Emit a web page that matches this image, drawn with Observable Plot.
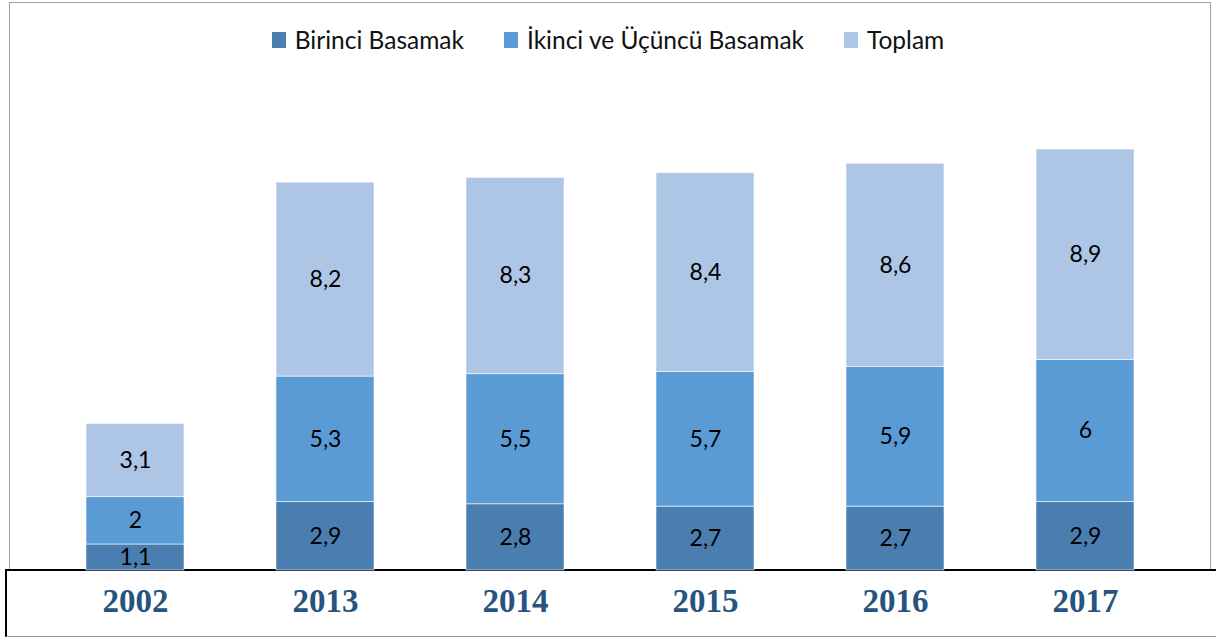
<!DOCTYPE html>
<html>
<head>
<meta charset="utf-8">
<script src="https://cdn.jsdelivr.net/npm/d3@7"></script>
<script src="https://cdn.jsdelivr.net/npm/@observablehq/plot@0.6"></script>
<style>
  html, body { margin: 0; padding: 0; background: #fff; }
  #wrap { position: relative; width: 1216px; height: 637px; overflow: hidden; }
  #frame { position: absolute; left: 9px; top: 2px; width: 1200px; height: 633px; border: 1.5px solid #a0a0a0; box-sizing: content-box; }
  #box { position: absolute; left: 5px; top: 569px; width: 1220px; height: 65px; border-top: 2.5px solid #000; border-left: 2px solid #000; border-bottom: 1.5px solid #9a9a9a; background: #fff; }
  #chart { position: absolute; left: 0; top: 0; }
  #legend { position: absolute; top: 25px; left: 0; width: 1216px; display: flex; justify-content: center; gap: 0; font-family: Lato, "Open Sans", sans-serif; font-size: 24.5px; color: #111; }
  #legend .item { display: flex; align-items: center; margin: 0 20px; }
  #legend .sw { width: 14px; height: 16px; margin-right: 9px; display: inline-block; }
</style>
</head>
<body>
<div id="wrap">
  <div id="frame"></div>
  <div id="box"></div>
  <div id="chart"></div>
  <div id="legend"></div>
</div>
<script>
const years = ["2002", "2013", "2014", "2015", "2016", "2017"];
const seriesNames = ["Birinci Basamak", "İkinci ve Üçüncü Basamak", "Toplam"];
const seriesColors = ["#4a7eb0", "#5b9bd5", "#adc6e6"];
const birinci = [1.1, 2.9, 2.8, 2.7, 2.7, 2.9];
const ikinci = [2, 5.3, 5.5, 5.7, 5.9, 6];
const toplam = [3.1, 8.2, 8.3, 8.4, 8.6, 8.9];

const seriesValues = [birinci, ikinci, toplam];
const data = [];
years.forEach((year, i) => {
  seriesNames.forEach((s, j) => data.push({year, series: s, value: seriesValues[j][i]}));
});

const fmt = v => String(v).replace(".", ",");

const plot = Plot.plot({
  width: 1216,
  height: 637,
  marginTop: 97,
  marginBottom: 67,
  marginLeft: 39,
  marginRight: 35,
  style: {background: "transparent", overflow: "visible"},
  x: {domain: years, paddingInner: 0.485, paddingOuter: 0.2425, label: null},
  y: {domain: [0, 20], axis: null},
  color: {domain: seriesNames, range: seriesColors},
  marks: [
    Plot.barY(data, Plot.stackY({x: "year", y: "value", fill: "series", order: seriesNames, stroke: "#ffffff", strokeWidth: 0.8, strokeOpacity: 0.7})),
    Plot.text(data, Plot.stackY({x: "year", y: "value", z: "series", order: seriesNames, text: d => fmt(d.value), fontSize: 23, fontFamily: "Lato, 'Open Sans', sans-serif", fill: "#000"})),
    Plot.axisX({tickSize: 0, tickPadding: 18, fontSize: 33, fontWeight: "bold", fontFamily: "'Liberation Serif', 'Times New Roman', serif", color: "#26547e", label: null})
  ]
});
document.getElementById("chart").appendChild(plot);

const legend = document.getElementById("legend");
seriesNames.forEach((s, j) => {
  const item = document.createElement("div");
  item.className = "item";
  const sw = document.createElement("span");
  sw.className = "sw";
  sw.style.background = seriesColors[j];
  const t = document.createElement("span");
  t.textContent = s;
  item.appendChild(sw);
  item.appendChild(t);
  legend.appendChild(item);
});
</script>
</body>
</html>
